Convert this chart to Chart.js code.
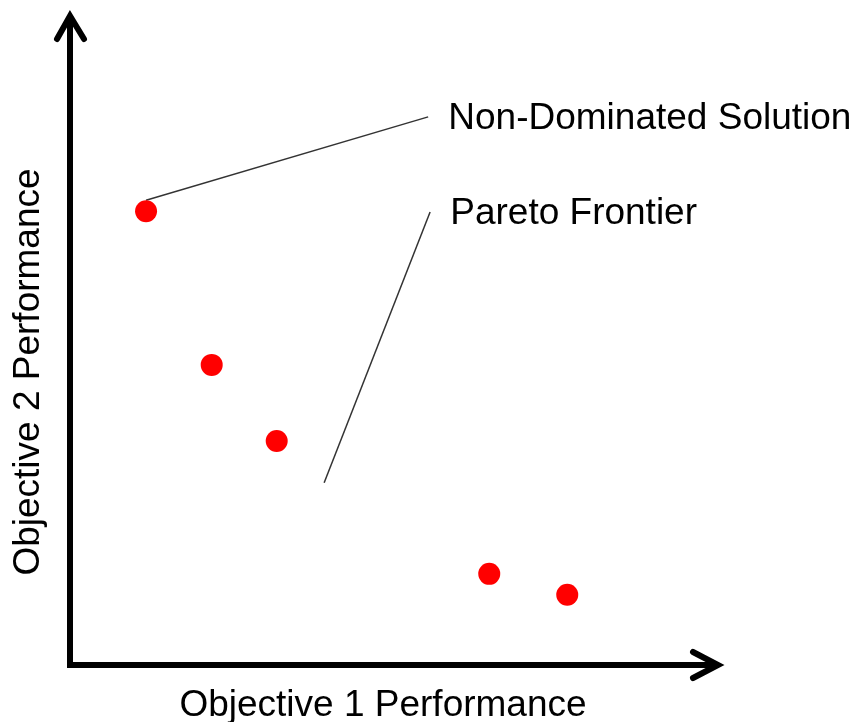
<!DOCTYPE html>
<html lang="en">
  <head>
    <meta charset="UTF-8" />
    <title>Pareto Frontier</title>
    <style>
      * {
        margin: 0;
        padding: 0;
        box-sizing: border-box;
      }
      body {
        background: white;
        width: 857px;
        height: 722px;
        overflow: hidden;
      }
    </style>
  </head>
  <body>
    <canvas id="myChart" width="857" height="722"></canvas>

    <script src="https://cdn.jsdelivr.net/npm/chart.js"></script>
    <script>
      // objective values (axis units 0..10, origin at the corner of the axes)
      const objective1 = [1.17, 2.18, 3.18, 6.45, 7.65];
      const objective2 = [6.97, 4.61, 3.44, 1.4, 1.08];

      const xTitle = "Objective 1 Performance";
      const yTitle = "Objective 2 Performance";

      // callouts: label, label anchor, line start, line end (in axis units)
      const calloutLabels = ["Non-Dominated Solution", "Pareto Frontier"];
      const calloutTextX = [5.82, 5.85];
      const calloutTextY = [8.23, 6.77];
      const calloutLineX1 = [1.17, 5.54];
      const calloutLineY1 = [7.14, 6.96];
      const calloutLineX2 = [5.51, 3.91];
      const calloutLineY2 = [8.42, 2.8];

      const font = '37px "Liberation Sans", Arial, sans-serif';

      const data = {
        datasets: [
          {
            label: "Solutions",
            data: objective1.map((x, i) => ({ x: x, y: objective2[i] })),
            backgroundColor: "#ff0000",
            borderColor: "#ff0000",
            pointRadius: 11,
            pointHoverRadius: 11,
            borderWidth: 0,
          },
        ],
      };

      const paretoDecor = {
        id: "paretoDecor",
        beforeDatasetsDraw(chart) {
          const {
            ctx,
            chartArea: { top, bottom, left, right },
            scales: { x, y },
          } = chart;
          ctx.save();

          // callout lines
          ctx.strokeStyle = "#333";
          ctx.lineWidth = 1.5;
          for (let i = 0; i < calloutLabels.length; i++) {
            ctx.beginPath();
            ctx.moveTo(x.getPixelForValue(calloutLineX1[i]), y.getPixelForValue(calloutLineY1[i]));
            ctx.lineTo(x.getPixelForValue(calloutLineX2[i]), y.getPixelForValue(calloutLineY2[i]));
            ctx.stroke();
          }

          // axes
          ctx.strokeStyle = "black";
          ctx.lineWidth = 6;
          ctx.lineCap = "butt";
          ctx.beginPath();
          ctx.moveTo(left, bottom + 3);
          ctx.lineTo(left, top + 2);
          ctx.moveTo(left - 3, bottom);
          ctx.lineTo(right - 2, bottom);
          ctx.stroke();

          // arrow heads
          ctx.lineCap = "round";
          ctx.lineJoin = "miter";
          ctx.beginPath();
          ctx.moveTo(left - 13, top + 25);
          ctx.lineTo(left, top + 2);
          ctx.lineTo(left + 14, top + 25);
          ctx.moveTo(right - 27, bottom - 13);
          ctx.lineTo(right - 2, bottom);
          ctx.lineTo(right - 27, bottom + 13);
          ctx.stroke();

          // texts
          ctx.fillStyle = "black";
          ctx.font = font;
          ctx.textBaseline = "alphabetic";
          ctx.textAlign = "left";
          for (let i = 0; i < calloutLabels.length; i++) {
            ctx.fillText(
              calloutLabels[i],
              x.getPixelForValue(calloutTextX[i]),
              y.getPixelForValue(calloutTextY[i])
            );
          }

          ctx.textAlign = "center";
          ctx.fillText(xTitle, 383, 716);

          ctx.translate(39, 372);
          ctx.rotate(-Math.PI / 2);
          ctx.fillText(yTitle, 0, 0);

          ctx.restore();
        },
      };

      const config = {
        type: "scatter",
        data: data,
        options: {
          responsive: false,
          animation: false,
          events: [],
          layout: {
            padding: { left: 70, right: 137, top: 14, bottom: 57 },
          },
          plugins: {
            legend: { display: false },
            tooltip: { enabled: false },
          },
          scales: {
            x: { display: false, min: 0, max: 10 },
            y: { display: false, min: 0, max: 10 },
          },
        },
        plugins: [paretoDecor],
      };

      const myChart = new Chart(document.getElementById("myChart"), config);
    </script>
  </body>
</html>
